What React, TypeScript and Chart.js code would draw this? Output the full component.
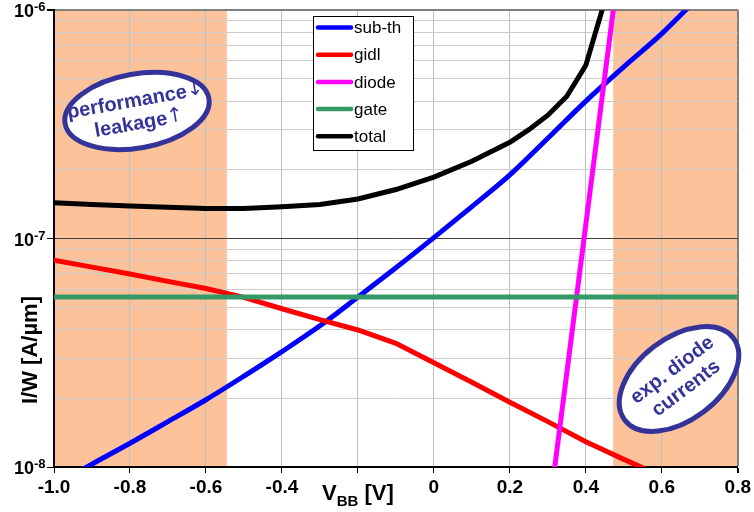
import React, { useEffect, useRef } from 'react';
import { Chart, registerables } from 'chart.js';

Chart.register(...registerables);

// ---------- data ----------
const vbb = [-1.0, -0.9, -0.8, -0.7, -0.6, -0.5, -0.4, -0.3, -0.2, -0.1, 0.0, 0.1, 0.2, 0.3, 0.4, 0.5, 0.6, 0.7, 0.8];
const subTh = [8.3e-9, 1.03e-8, 1.27e-8, 1.58e-8, 1.97e-8, 2.5e-8, 3.2e-8, 4.15e-8, 5.55e-8, 7.45e-8, 1.01e-7, 1.38e-7, 1.9e-7, 2.75e-7, 4.0e-7, 5.65e-7, 7.9e-7, 1.15e-6, 1.6e-6];
const gidl = [8.05e-8, 7.5e-8, 7.0e-8, 6.5e-8, 6.05e-8, 5.53e-8, 4.93e-8, 4.42e-8, 3.98e-8, 3.48e-8, 2.86e-8, 2.35e-8, 1.92e-8, 1.58e-8, 1.29e-8, 1.08e-8, 9.1e-9, 7.6e-9, 6.4e-9];
const gate = [5.55e-8, 5.55e-8, 5.55e-8, 5.55e-8, 5.55e-8, 5.55e-8, 5.55e-8, 5.55e-8, 5.55e-8, 5.55e-8, 5.55e-8, 5.55e-8, 5.55e-8, 5.55e-8, 5.55e-8, 5.55e-8, 5.55e-8, 5.55e-8, 5.55e-8];
const diodeV = [0.3, 0.5];
const diode = [5.8e-9, 2.3e-6];
const totalV = [-1.0, -0.9, -0.8, -0.7, -0.6, -0.5, -0.4, -0.3, -0.2, -0.1, 0.0, 0.1, 0.2, 0.25, 0.3, 0.35, 0.4, 0.45];
const total = [1.435e-7, 1.41e-7, 1.39e-7, 1.37e-7, 1.355e-7, 1.355e-7, 1.38e-7, 1.41e-7, 1.49e-7, 1.64e-7, 1.86e-7, 2.18e-7, 2.64e-7, 3.0e-7, 3.47e-7, 4.2e-7, 5.74e-7, 1.1e-6];

const seriesNames = ['sub-th', 'gidl', 'diode', 'gate', 'total'];
const seriesColors = ['#0000FF', '#FF0000', '#FF00FF', '#339966', '#000000'];
const seriesSmooth = [true, false, false, false, false];

const xTicks = [-1.0, -0.8, -0.6, -0.4, -0.2, 0, 0.2, 0.4, 0.6, 0.8];
const xTickLabels = ['-1.0', '-0.8', '-0.6', '-0.4', '', '0', '0.2', '0.4', '0.6', '0.8'];
const yDecades = [1e-8, 1e-7, 1e-6];
const yExponents = ['-8', '-7', '-6'];
const shadedBands = [[-1.0, -0.545], [0.472, 0.8]];

const FONT = '"Liberation Sans", Arial, Helvetica, sans-serif';
const NAVY = '#333399';

const pts = (xs: number[], ys: number[]) => xs.map((x, i) => ({ x, y: ys[i] }));
const isDecade = (v: number) => {
  const l = Math.log10(v);
  return Math.abs(l - Math.round(l)) < 1e-6;
};

const decorations = {
  id: 'decorations',
  beforeDraw(chart: any) {
    const { ctx, chartArea, scales } = chart;
    const xs = scales.x;
    ctx.save();
    ctx.fillStyle = '#FCC39B';
    for (const [a, b] of shadedBands) {
      const x1 = xs.getPixelForValue(a);
      const x2 = xs.getPixelForValue(b);
      ctx.fillRect(x1, chartArea.top, x2 - x1, chartArea.bottom - chartArea.top);
    }
    ctx.restore();
  },
  afterDraw(chart: any) {
    const { ctx, scales } = chart;
    const ys = scales.y;
    ctx.save();
    // y tick labels 10^n
    ctx.fillStyle = '#000';
    yDecades.forEach((v, i) => {
      const py = ys.getPixelForValue(v);
      ctx.font = `bold 18px ${FONT}`;
      ctx.textAlign = 'right';
      ctx.textBaseline = 'alphabetic';
      ctx.fillText('10', 34, py + 7);
      ctx.font = `bold 13px ${FONT}`;
      ctx.textAlign = 'left';
      ctx.fillText(yExponents[i], 34, py + 1);
    });
    // y axis title
    ctx.save();
    ctx.translate(31, 350);
    ctx.rotate(-Math.PI / 2);
    ctx.font = `bold 22px ${FONT}`;
    ctx.textAlign = 'center';
    ctx.textBaseline = 'middle';
    ctx.fillText('I/W [A/\u00B5m]', 0, 0);
    ctx.restore();
    // x axis title V_BB [V]
    ctx.textAlign = 'left';
    ctx.textBaseline = 'alphabetic';
    ctx.font = `bold 22px ${FONT}`;
    let x = 322;
    ctx.fillText('V', x, 500);
    x += ctx.measureText('V').width;
    ctx.font = `bold 15px ${FONT}`;
    ctx.fillText('BB', x, 506);
    x += ctx.measureText('BB').width;
    ctx.font = `bold 22px ${FONT}`;
    ctx.fillText(' [V]', x, 500);

    // legend
    const lx = 313, ly = 16, lw = 100, lh = 134;
    ctx.fillStyle = '#fff';
    ctx.fillRect(lx, ly, lw, lh);
    ctx.strokeStyle = '#000';
    ctx.lineWidth = 1;
    ctx.strokeRect(lx + 0.5, ly + 0.5, lw, lh);
    chart.data.datasets.forEach((ds: any, i: number) => {
      const ry = 27.5 + i * 27.2;
      ctx.strokeStyle = ds.borderColor;
      ctx.lineWidth = 4.5;
      ctx.lineCap = 'round';
      ctx.beginPath();
      ctx.moveTo(318, ry);
      ctx.lineTo(351, ry);
      ctx.stroke();
      ctx.fillStyle = '#000';
      ctx.font = `17px ${FONT}`;
      ctx.textAlign = 'left';
      ctx.textBaseline = 'middle';
      ctx.fillText(ds.label, 354, ry + 1);
    });

    // annotation ellipses
    const bubble = (cx: number, cy: number, a: number, b: number, ang: number, lines: string[][], offs: number[]) => {
      ctx.save();
      ctx.translate(cx, cy);
      ctx.rotate((ang * Math.PI) / 180);
      ctx.beginPath();
      ctx.ellipse(0, 0, a, b, 0, 0, Math.PI * 2);
      ctx.fillStyle = '#fff';
      ctx.fill();
      ctx.strokeStyle = NAVY;
      ctx.lineWidth = 5;
      ctx.stroke();
      ctx.fillStyle = NAVY;
      ctx.textAlign = 'left';
      ctx.textBaseline = 'middle';
      lines.forEach(([t, arrow], i) => {
        const f1 = `bold 20px ${FONT}`;
        const f2 = `20px "DejaVu Sans", sans-serif`;
        ctx.font = f1;
        const w1 = ctx.measureText(t).width;
        ctx.font = f2;
        const w2 = arrow ? ctx.measureText(arrow).width : 0;
        const start = -(w1 + w2) / 2;
        ctx.font = f1;
        ctx.fillText(t, start, offs[i]);
        if (arrow) {
          ctx.font = f2;
          ctx.fillText(arrow, start + w1, offs[i] - 1);
        }
      });
      ctx.restore();
    };
    bubble(137, 111, 73, 37, -10, [['performance', '\u2193'], ['leakage', '\u2191']], [-10, 13]);
    bubble(679, 379, 68, 41, -37, [['exp. diode', ''], ['currents', '']], [-11, 12]);
    ctx.restore();
  },
};

export default function App() {
  const ref = useRef<HTMLCanvasElement | null>(null);
  useEffect(() => {
    if (!ref.current) return;
    const seriesData = [pts(vbb, subTh), pts(vbb, gidl), pts(diodeV, diode), pts(vbb, gate), pts(totalV, total)];
    const chart = new Chart(ref.current, {
      type: 'line',
      data: {
        datasets: seriesNames.map((name, i) => ({
          label: name,
          data: seriesData[i],
          borderColor: seriesColors[i],
          backgroundColor: seriesColors[i],
          borderWidth: 5,
          pointRadius: 0,
          tension: 0,
          cubicInterpolationMode: seriesSmooth[i] ? 'monotone' : 'default',
          clip: 0,
          order: 5 - i,
        })),
      },
      options: {
        animation: false,
        responsive: false,
        events: [],
        layout: { padding: { top: 10, right: 14, left: 0, bottom: 0 } },
        plugins: { legend: { display: false }, tooltip: { enabled: false } },
        scales: {
          x: {
            type: 'linear',
            min: -1.0,
            max: 0.8,
            afterBuildTicks: (scale: any) => {
              scale.ticks = xTicks.map((v) => ({ value: v }));
            },
            afterFit: (scale: any) => {
              scale.height = 45;
            },
            ticks: {
              autoSkip: false,
              maxRotation: 0,
              padding: 3,
              color: '#000',
              font: { family: FONT, size: 19, weight: 'bold' },
              callback: (_v: any, i: number) => xTickLabels[i],
            },
            grid: {
              color: (c: any) => (c.tick && Math.abs(c.tick.value - 0.8) < 1e-6 ? '#808080' : '#c0c0c0'),
              lineWidth: (c: any) => (c.tick && Math.abs(c.tick.value - 0.8) < 1e-6 ? 2 : 1),
              tickColor: '#000',
              tickLength: 6,
            },
            border: { color: '#000', width: 2 },
          },
          y: {
            type: 'logarithmic',
            min: 1e-8,
            max: 1e-6,
            afterBuildTicks: (scale: any) => {
              const t: any[] = [];
              for (let d = 0; d < yDecades.length - 1; d++) {
                for (let m = 1; m <= 9; m++) t.push({ value: m * yDecades[d], major: m === 1 });
              }
              t.push({ value: yDecades[yDecades.length - 1], major: true });
              scale.ticks = t;
            },
            afterFit: (scale: any) => {
              scale.width = 54;
            },
            ticks: {
              autoSkip: false,
              callback: () => '',
            },
            grid: {
              color: (c: any) => {
                const v = c.tick ? c.tick.value : 0;
                if (!v) return '#cccccc';
                if (Math.abs(Math.log10(v) + 6) < 1e-6) return '#808080';
                if (isDecade(v)) return '#404040';
                return '#cccccc';
              },
              lineWidth: (c: any) => (c.tick && Math.abs(Math.log10(c.tick.value) + 6) < 1e-6 ? 2 : 1),
              tickColor: (c: any) => (c.tick && isDecade(c.tick.value) ? '#000' : 'rgba(0,0,0,0)'),
              tickLength: 7,
            },
            border: { color: '#000', width: 2 },
          },
        },
      } as any,
      plugins: [decorations],
    });
    return () => chart.destroy();
  }, []);

  return (
    <div style={{ position: 'fixed', left: 0, top: 0, width: 754, height: 512, background: '#fff' }}>
      <canvas ref={ref} width={754} height={512} style={{ width: 754, height: 512, display: 'block' }} />
    </div>
  );
}
